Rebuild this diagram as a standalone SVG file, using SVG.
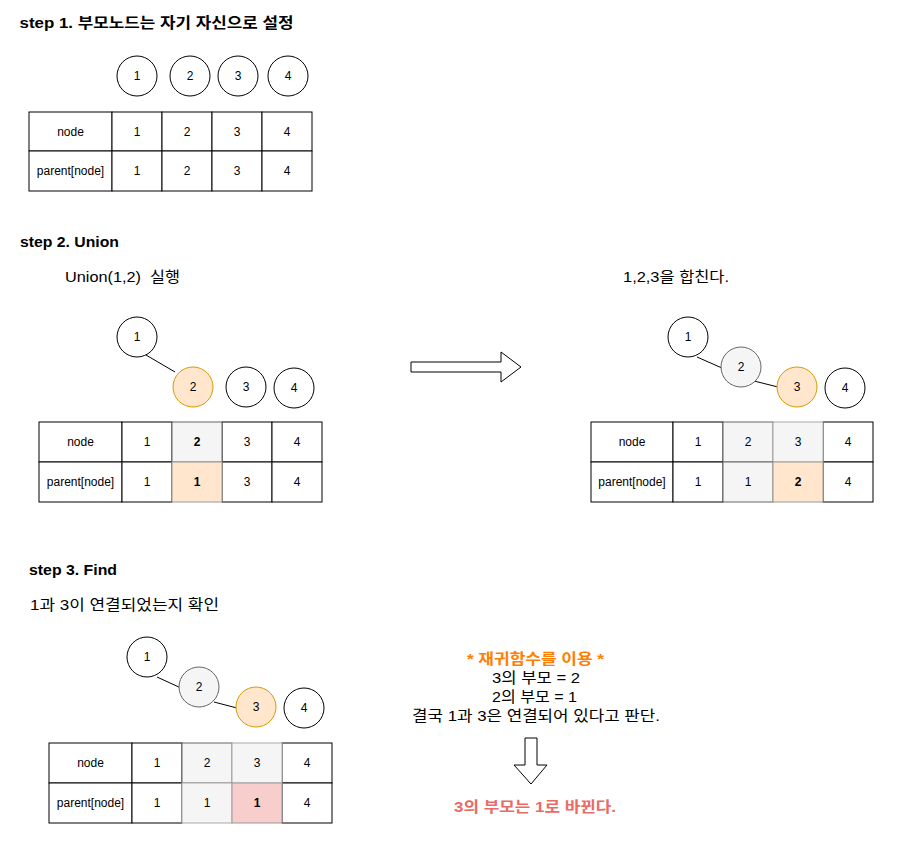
<svg xmlns="http://www.w3.org/2000/svg" width="910" height="862" viewBox="0 0 910 862">
<style>
text{font-family:"Liberation Sans","Noto Sans CJK KR",Arial,sans-serif;fill:#000}
.h{font-size:15px;font-weight:bold}
.t{font-size:15px}
.c{font-size:12px;text-anchor:middle;dominant-baseline:central}
.b{font-weight:bold}
.n{fill:#fff;stroke:#000;stroke-width:1}
.o{fill:#ffe6cc;stroke:#d79b00;stroke-width:1}
.g{fill:#f5f5f5;stroke:#666;stroke-width:1}
.r{fill:#f8cecc;stroke:#b85450;stroke-width:1}
.cell{fill:#fff;stroke:#000;stroke-width:1}
.e{stroke:#000;stroke-width:1;fill:none}
.ar{fill:#fff;stroke:#000;stroke-width:1}
</style>
<rect width="910" height="862" fill="#fff"/>

<text class="h" x="19.5" y="28" textLength="274" lengthAdjust="spacingAndGlyphs">step 1. 부모노드는 자기 자신으로 설정</text>
<g id="s1n1"><circle class="n" cx="137" cy="76" r="20"/><text class="c" x="137" y="76">1</text></g>
<g id="s1n2"><circle class="n" cx="190" cy="76" r="20"/><text class="c" x="190" y="76">2</text></g>
<g id="s1n3"><circle class="n" cx="238" cy="76" r="20"/><text class="c" x="238" y="76">3</text></g>
<g id="s1n4"><circle class="n" cx="288" cy="76" r="20"/><text class="c" x="288" y="76">4</text></g>
<g id="s1table">
<rect class="cell" x="29" y="112" width="83" height="39"/><text class="c" x="70.5" y="131.5">node</text>
<rect class="cell" x="112" y="112" width="50" height="39"/><text class="c" x="137" y="131.5">1</text>
<rect class="cell" x="162" y="112" width="50" height="39"/><text class="c" x="187" y="131.5">2</text>
<rect class="cell" x="212" y="112" width="50" height="39"/><text class="c" x="237" y="131.5">3</text>
<rect class="cell" x="262" y="112" width="50" height="39"/><text class="c" x="287" y="131.5">4</text>
<rect class="cell" x="29" y="151" width="83" height="40"/><text class="c" x="70.5" y="171">parent[node]</text>
<rect class="cell" x="112" y="151" width="50" height="40"/><text class="c" x="137" y="171">1</text>
<rect class="cell" x="162" y="151" width="50" height="40"/><text class="c" x="187" y="171">2</text>
<rect class="cell" x="212" y="151" width="50" height="40"/><text class="c" x="237" y="171">3</text>
<rect class="cell" x="262" y="151" width="50" height="40"/><text class="c" x="287" y="171">4</text>
</g>

<text class="h" x="20" y="247" textLength="99" lengthAdjust="spacingAndGlyphs">step 2. Union</text>
<text class="t" x="65" y="282" xml:space="preserve" textLength="115" lengthAdjust="spacingAndGlyphs">Union(1,2)  실행</text>
<text class="t" x="623" y="282" textLength="106" lengthAdjust="spacingAndGlyphs">1,2,3을 합친다.</text>

<g id="connectors">
<line class="e" x1="146" y1="355" x2="175" y2="372"/>
<line class="e" x1="697" y1="357" x2="722" y2="368"/>
<line class="e" x1="754" y1="381" x2="778" y2="387"/>
<line class="e" x1="157" y1="677" x2="181" y2="688"/>
<line class="e" x1="214" y1="702" x2="237" y2="708"/>
</g>

<g id="s2n1"><circle class="n" cx="137" cy="337" r="20"/><text class="c" x="137" y="337">1</text></g>
<g id="s2n2"><circle class="o" cx="193" cy="387" r="20"/><text class="c" x="193" y="387">2</text></g>
<g id="s2n3"><circle class="n" cx="246" cy="387" r="20"/><text class="c" x="246" y="387">3</text></g>
<g id="s2n4"><circle class="n" cx="294" cy="388" r="20"/><text class="c" x="294" y="388">4</text></g>
<g id="s2table">
<rect class="cell" x="39" y="422" width="83" height="40"/><text class="c" x="80.5" y="442">node</text>
<rect class="cell" x="122" y="422" width="50" height="40"/><text class="c" x="147" y="442">1</text>
<rect class="cell" x="222" y="422" width="50" height="40"/><text class="c" x="247" y="442">3</text>
<rect class="cell" x="272" y="422" width="50" height="40"/><text class="c" x="297" y="442">4</text>
<rect class="cell" x="39" y="462" width="83" height="40"/><text class="c" x="80.5" y="482">parent[node]</text>
<rect class="cell" x="122" y="462" width="50" height="40"/><text class="c" x="147" y="482">1</text>
<rect class="cell" x="222" y="462" width="50" height="40"/><text class="c" x="247" y="482">3</text>
<rect class="cell" x="272" y="462" width="50" height="40"/><text class="c" x="297" y="482">4</text>
<rect class="g" x="172" y="422" width="50" height="40"/><text class="c b" x="197" y="442">2</text>
<rect class="o" x="172" y="462" width="50" height="40" style="stroke:#999"/><text class="c b" x="197" y="482">1</text>
</g>

<g id="arrowRight"><path class="ar" d="M411 362 H501 V352 L521 367 L501 382 V372 H411 Z"/></g>

<g id="s2rn1"><circle class="n" cx="688" cy="337" r="20"/><text class="c" x="688" y="337">1</text></g>
<g id="s2rn2"><circle class="g" cx="741" cy="367" r="20"/><text class="c" x="741" y="367">2</text></g>
<g id="s2rn3"><circle class="o" cx="797" cy="387" r="20"/><text class="c" x="797" y="387">3</text></g>
<g id="s2rn4"><circle class="n" cx="845" cy="388" r="20"/><text class="c" x="845" y="388">4</text></g>
<g id="s2rtable">
<rect class="cell" x="591" y="422" width="82" height="40"/><text class="c" x="632" y="442">node</text>
<rect class="cell" x="673" y="422" width="50" height="40"/><text class="c" x="698" y="442">1</text>
<rect class="cell" x="823" y="422" width="50" height="40"/><text class="c" x="848" y="442">4</text>
<rect class="cell" x="591" y="462" width="82" height="40"/><text class="c" x="632" y="482">parent[node]</text>
<rect class="cell" x="673" y="462" width="50" height="40"/><text class="c" x="698" y="482">1</text>
<rect class="cell" x="823" y="462" width="50" height="40"/><text class="c" x="848" y="482">4</text>
<rect class="g" x="723" y="422" width="50" height="40"/><text class="c" x="748" y="442">2</text>
<rect class="g" x="773" y="422" width="50" height="40" style="stroke:#aaa"/><text class="c" x="798" y="442">3</text>
<rect class="g" x="723" y="462" width="50" height="40"/><text class="c" x="748" y="482">1</text>
<rect class="o" x="773" y="462" width="50" height="40" style="stroke:#999"/><text class="c b" x="798" y="482">2</text>
</g>

<text class="h" x="29" y="575" textLength="88" lengthAdjust="spacingAndGlyphs">step 3. Find</text>
<text class="t" x="30" y="610" textLength="189" lengthAdjust="spacingAndGlyphs">1과 3이 연결되었는지 확인</text>

<g id="s3n1"><circle class="n" cx="147" cy="657" r="20"/><text class="c" x="147" y="657">1</text></g>
<g id="s3n2"><circle class="g" cx="199" cy="687" r="20"/><text class="c" x="199" y="687">2</text></g>
<g id="s3n3"><circle class="o" cx="256" cy="707" r="20"/><text class="c" x="256" y="707">3</text></g>
<g id="s3n4"><circle class="n" cx="304" cy="708" r="20"/><text class="c" x="304" y="708">4</text></g>
<g id="s3table">
<rect class="cell" x="49" y="743" width="83" height="40"/><text class="c" x="90.5" y="763">node</text>
<rect class="cell" x="132" y="743" width="50" height="40"/><text class="c" x="157" y="763">1</text>
<rect class="cell" x="282" y="743" width="50" height="40"/><text class="c" x="307" y="763">4</text>
<rect class="cell" x="49" y="783" width="83" height="40"/><text class="c" x="90.5" y="803">parent[node]</text>
<rect class="cell" x="132" y="783" width="50" height="40"/><text class="c" x="157" y="803">1</text>
<rect class="cell" x="282" y="783" width="50" height="40"/><text class="c" x="307" y="803">4</text>
<rect class="g" x="182" y="743" width="50" height="40"/><text class="c" x="207" y="763">2</text>
<rect class="g" x="232" y="743" width="50" height="40" style="stroke:#aaa"/><text class="c" x="257" y="763">3</text>
<rect class="g" x="182" y="783" width="50" height="40" style="stroke:#aaa"/><text class="c" x="207" y="803">1</text>
<rect class="r" x="232" y="783" width="50" height="40" style="stroke:#999"/><text class="c b" x="257" y="803">1</text>
</g>

<g id="findText" style="text-anchor:middle">
<text class="t b" x="535.5" y="664" style="fill:#ff8000" textLength="137" lengthAdjust="spacingAndGlyphs">* 재귀함수를 이용 *</text>
<text class="t" x="536" y="683" textLength="88" lengthAdjust="spacingAndGlyphs">3의 부모 = 2</text>
<text class="t" x="534.5" y="702" textLength="85" lengthAdjust="spacingAndGlyphs">2의 부모 = 1</text>
<text class="t" x="536" y="721" textLength="248" lengthAdjust="spacingAndGlyphs">결국 1과 3은 연결되어 있다고 판단.</text>
</g>
<g id="arrowDown"><path class="ar" d="M525 738 H537 V765 H547 L531 784 L514 765 H525 Z"/></g>
<text class="t b" x="535" y="812" style="text-anchor:middle;fill:#ea6b66" textLength="162" lengthAdjust="spacingAndGlyphs">3의 부모는 1로 바뀐다.</text>
</svg>
